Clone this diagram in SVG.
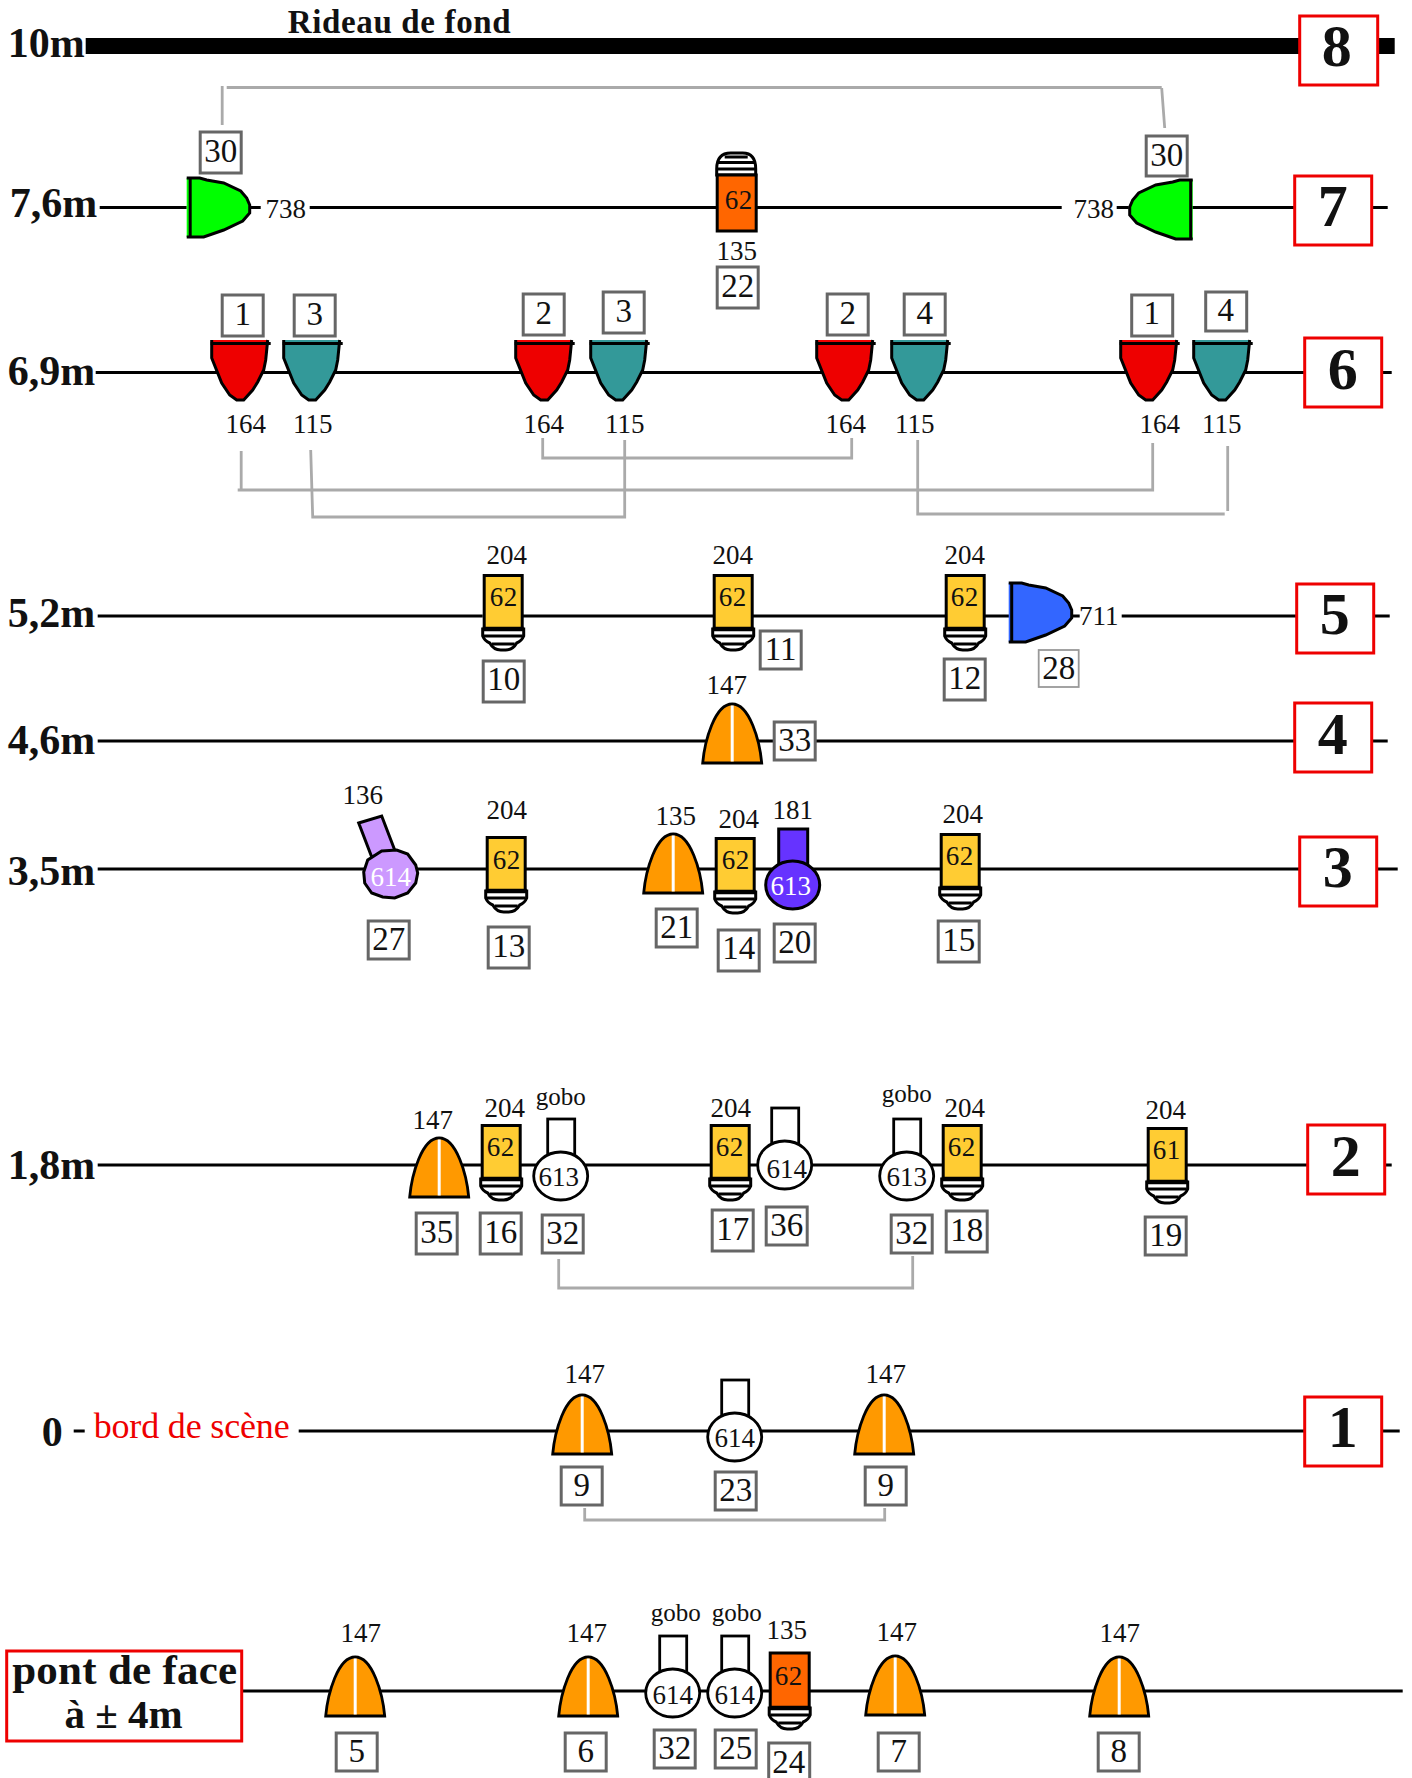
<svg xmlns="http://www.w3.org/2000/svg" width="1412" height="1778" viewBox="0 0 1412 1778">
<style>
text{font-family:"Liberation Serif","Times New Roman",serif;fill:#111;text-anchor:middle}
.lv{font-size:42px;font-weight:bold;text-anchor:start}
.rn{font-size:60px;font-weight:bold}
.n{font-size:33px;transform:translateY(-1px)}
.l{font-size:27px;transform:translateY(.8px)}
.g{font-size:25px;transform:translateY(.8px)}
.i{letter-spacing:.5px;transform:translateY(-1px)}
.box{fill:#fff;stroke:#666;stroke-width:3}
.rb{fill:#fff;stroke:#e00;stroke-width:3}
.bar{fill:none;stroke:#000;stroke-width:2.8}
.link{fill:none;stroke:#aaa;stroke-width:2.8}
.gb{fill:#fff;stroke:#000;stroke-width:2.8}
.s{stroke:#000;stroke-width:3}
</style>
<defs>
<g id="fins"><path d="M0 0V7Q2 12 7 14Q11 21 18 21H23Q30 21 34 14Q39 12 41 7V0Z" fill="#fff" stroke="#000" stroke-width="3"/><path d="M0 0H41" stroke="#000" stroke-width="4.500"/><path d="M1 7H40M9 15H32" stroke="#000" stroke-width="3"/></g>
<g id="lamp"><rect x="1.500" y="1.500" width="38" height="54" fill="#fc3" class="s"/><use href="#fins" y="55"/></g>
<g id="par"><path d="M1 60H60C58 38 48 1 30.500 1C13 1 3 38 1 60Z" fill="#f90" stroke="#000" stroke-width="2.800"/><path d="M30.500 2.500V58.500" stroke="#fff" stroke-width="3"/></g>
<path id="cup" d="M1 0V18L11 43L19 55L26 60H33L42 50L47 42L53 30L55 20L57 0" class="s"/>
<path id="topbar" d="M0 3.500H60" class="s"/>
<path id="d" d="M0 1H13L20 3L37 6L54 14L60 21L63 28V36L56 44L37 53L17 60H0" class="s"/>
<g id="gobo"><rect x="-13" y="-57" width="27" height="40" class="gb"/><ellipse cx="0" cy="0" rx="27" ry="24" class="gb"/></g>
</defs>

<g transform="translate(-0.300 0)">
<g id="connectors">
<path d="M86 46H1395" stroke="#000" stroke-width="16"/>
<g class="bar">
<path d="M100 207.500H187M250 207.500H261M310 207.500H1062M1117 207.500H1129M1192 207.500H1295M1372 207.500H1388"/>
<path d="M96 372.500H1305M1382 372.500H1392"/>
<path d="M98 616H483M520 616H1010M1070 616H1080M1122 616H1297M1374 616H1390"/>
<path d="M98 741H1295M1372 741H1388"/>
<path d="M98 869H1300M1377 869H1398"/>
<path d="M98 1165H1308M1385 1165H1392"/>
<path d="M74 1431H85M299 1431H1305M1382 1431H1400"/>
<path d="M242 1691H1403"/>
</g>
<g class="link">
<path d="M222.500 86V125M227 87.500H1162M1162 88L1165 128"/>
<path d="M241.500 451V490M238 490H1153V443"/>
<path d="M311 450L313 517H625V440"/>
<path d="M543 438V458H852V438"/>
<path d="M918 440V514H1225M1228 446V511"/>
<path d="M559 1259V1288H913V1256"/>
<path d="M585 1508V1520H885V1508"/>
</g>
</g>

<g id="level-labels">
<text class="lv" x="8" y="57">10m</text>
<text class="lv" x="10" y="217">7,6m</text>
<text class="lv" x="8" y="385">6,9m</text>
<text class="lv" x="8" y="627">5,2m</text>
<text class="lv" x="8" y="754">4,6m</text>
<text class="lv" x="8" y="885">3,5m</text>
<text class="lv" x="8" y="1179">1,8m</text>
<text class="lv" x="42" y="1446">0</text>
<text x="94" y="1438" font-size="36" style="fill:#e00;text-anchor:start" textLength="196">bord de scène</text>
<text x="288" y="33" font-size="33" font-weight="bold" style="text-anchor:start" textLength="223">Rideau de fond</text>
</g>

<g id="level-8"><rect class="rb" x="1300" y="16" width="78" height="69"/><text class="rn" x="1337" y="66">8</text></g>
<g id="level-7"><rect class="rb" x="1295" y="176" width="77" height="69"/><text class="rn" x="1333" y="226">7</text></g>
<g id="level-6"><rect class="rb" x="1305" y="338" width="77" height="69"/><text class="rn" x="1343" y="389">6</text></g>
<g id="level-5"><rect class="rb" x="1297" y="584" width="77" height="69"/><text class="rn" x="1335" y="634">5</text></g>
<g id="level-4"><rect class="rb" x="1295" y="703" width="77" height="69"/><text class="rn" x="1333" y="754">4</text></g>
<g id="level-3"><rect class="rb" x="1300" y="837" width="77" height="69"/><text class="rn" x="1338" y="887">3</text></g>
<g id="level-2"><rect class="rb" x="1308" y="1125" width="77" height="69"/><text class="rn" x="1346" y="1176">2</text></g>
<g id="level-1"><rect class="rb" x="1305" y="1397" width="77" height="69"/><text class="rn" x="1343" y="1447">1</text></g>
<g id="level-pont"><rect class="rb" x="7" y="1651" width="235" height="90"/><text x="125" y="1684" font-size="43" font-weight="bold" textLength="225">pont de face</text><text x="124" y="1728" font-size="41" font-weight="bold">à ± 4m</text></g>

<g id="n30a"><use href="#d" x="187" y="177" fill="#0f0"/><path d="M190.500 177V237" class="s"/><text class="l" x="286" y="217">738</text><rect class="box" x="200.500" y="132" width="41" height="41"/><text class="n" x="221" y="163">30</text></g>
<g id="n30b"><g transform="translate(1193 179) scale(-1 1)"><use href="#d" fill="#0f0"/></g><path d="M1191 179V240" class="s"/><text class="l" x="1094" y="217">738</text><rect class="box" x="1146.500" y="136" width="41" height="40"/><text class="n" x="1167" y="167">30</text></g>
<g id="n22"><path d="M717 175V169Q717 153 731 153H743Q756 153 756 169V175Z" fill="#fff" class="s"/><path d="M717 169H756M725 157H748M718 162.500H755" stroke="#000" stroke-width="3"/><rect x="717.500" y="175" width="39" height="56" fill="#f60" class="s"/><text class="l i" x="739" y="210">62</text><text class="l" x="737" y="259">135</text><rect class="box" x="717.500" y="267" width="41" height="41"/><text class="n" x="738" y="298">22</text></g>

<g id="n1a"><use href="#cup" x="211" y="340" fill="#e00"/><use href="#topbar" x="211" y="340"/><text class="l" x="246" y="432">164</text><rect class="box" x="222.500" y="295" width="41" height="41"/><text class="n" x="243" y="326">1</text></g>
<g id="n3a"><use href="#cup" x="283" y="340" fill="#399"/><use href="#topbar" x="283" y="340"/><text class="l" x="313" y="432">115</text><rect class="box" x="294.500" y="295" width="41" height="41"/><text class="n" x="315" y="326">3</text></g>
<g id="n2a"><use href="#cup" x="515" y="340" fill="#e00"/><use href="#topbar" x="515" y="340"/><text class="l" x="544" y="432">164</text><rect class="box" x="523.500" y="294" width="41" height="41"/><text class="n" x="544" y="325">2</text></g>
<g id="n3b"><use href="#cup" x="590" y="340" fill="#399"/><use href="#topbar" x="590" y="340"/><text class="l" x="625" y="432">115</text><rect class="box" x="603.500" y="292" width="41" height="41"/><text class="n" x="624" y="323">3</text></g>
<g id="n2b"><use href="#cup" x="816" y="340" fill="#e00"/><use href="#topbar" x="816" y="340"/><text class="l" x="846" y="432">164</text><rect class="box" x="827.500" y="294" width="41" height="41"/><text class="n" x="848" y="325">2</text></g>
<g id="n4a"><use href="#cup" x="891" y="340" fill="#399"/><use href="#topbar" x="891" y="340"/><text class="l" x="915" y="432">115</text><rect class="box" x="904.500" y="294" width="41" height="41"/><text class="n" x="925" y="325">4</text></g>
<g id="n1b"><use href="#cup" x="1120" y="340" fill="#e00"/><use href="#topbar" x="1120" y="340"/><text class="l" x="1160" y="432">164</text><rect class="box" x="1132" y="295" width="41" height="41"/><text class="n" x="1152" y="325">1</text></g>
<g id="n4b"><use href="#cup" x="1193" y="340" fill="#399"/><use href="#topbar" x="1193" y="340"/><text class="l" x="1222" y="432">115</text><rect class="box" x="1206" y="292" width="41" height="39"/><text class="n" x="1226" y="322">4</text></g>

<g id="n10"><use href="#lamp" x="483" y="574"/><text class="l i" x="504" y="607">62</text><text class="l" x="507" y="563">204</text><rect class="box" x="483.500" y="661" width="41" height="41"/><text class="n" x="504" y="691">10</text></g>
<g id="n11"><use href="#lamp" x="713" y="574"/><text class="l i" x="733" y="607">62</text><text class="l" x="733" y="563">204</text><rect class="box" x="760.500" y="631" width="41" height="38"/><text class="n" x="781" y="661">11</text></g>
<g id="n12"><use href="#lamp" x="945" y="574"/><text class="l i" x="965" y="607">62</text><text class="l" x="965" y="563">204</text><rect class="box" x="944.500" y="659" width="41" height="41"/><text class="n" x="965" y="690">12</text></g>
<g id="n28"><use href="#d" x="1009" y="582" fill="#36f"/><path d="M1012 582V643" class="s"/><text class="l" x="1099" y="624">711</text><rect x="1039" y="650" width="40" height="37" fill="#fff" stroke="#999" stroke-width="1.800"/><text class="n" x="1059" y="680">28</text></g>
<g id="n33"><use href="#par" x="702" y="703"/><text class="l" x="727" y="693">147</text><rect class="box" x="774.500" y="722" width="41" height="38"/><text class="n" x="795" y="752">33</text></g>

<g id="n27"><polygon points="359,823 382,816 395,850 372,857" fill="#c9f" class="s"/><polygon points="382,851 397,850 408,854 416,865 418,873 416,883 408,893 395,898 383,897 372,893 365,883 364,872 368,860" fill="#c9f" class="s"/><text class="l" x="391" y="885" style="fill:#fff">614</text><text class="l" x="363" y="803">136</text><rect class="box" x="368.500" y="921" width="41" height="38"/><text class="n" x="389" y="951">27</text></g>
<g id="n13"><use href="#lamp" x="486" y="836"/><text class="l i" x="507" y="870">62</text><text class="l" x="507" y="818">204</text><rect class="box" x="488.500" y="927" width="41" height="41"/><text class="n" x="509" y="958">13</text></g>
<g id="n21"><use href="#par" x="643" y="833"/><text class="l" x="676" y="824">135</text><rect class="box" x="656.500" y="909" width="41" height="38"/><text class="n" x="677" y="939">21</text></g>
<g id="n14"><use href="#lamp" x="715" y="837"/><text class="l i" x="736" y="870">62</text><text class="l" x="739" y="827">204</text><rect class="box" x="718.500" y="930" width="41" height="41"/><text class="n" x="739" y="960">14</text></g>
<g id="n20"><rect x="779" y="829" width="29" height="36" fill="#63f" class="s"/><ellipse cx="793" cy="885" rx="27" ry="24" fill="#63f" class="s"/><text class="l" x="791" y="894" style="fill:#fff">613</text><text class="l" x="793" y="818">181</text><rect class="box" x="774.500" y="924" width="41" height="38"/><text class="n" x="795" y="954">20</text></g>
<g id="n15"><use href="#lamp" x="940" y="833"/><text class="l i" x="960" y="866">62</text><text class="l" x="963" y="822">204</text><rect class="box" x="938.500" y="921" width="41" height="41"/><text class="n" x="959" y="952">15</text></g>

<g id="n35"><use href="#par" x="409" y="1137"/><text class="l" x="433" y="1128">147</text><rect class="box" x="416.500" y="1213" width="41" height="41"/><text class="n" x="437" y="1244">35</text></g>
<g id="n16"><use href="#lamp" x="481" y="1124"/><text class="l i" x="501" y="1157">62</text><text class="l" x="505" y="1116">204</text><rect class="box" x="480.500" y="1213" width="41" height="41"/><text class="n" x="501" y="1244">16</text></g>
<g id="n32a"><use href="#gobo" x="561" y="1176"/><text class="l" x="559" y="1185">613</text><text class="g" x="561" y="1104">gobo</text><rect class="box" x="542.500" y="1215" width="41" height="38"/><text class="n" x="563" y="1245">32</text></g>
<g id="n17"><use href="#lamp" x="710" y="1124"/><text class="l i" x="730" y="1157">62</text><text class="l" x="731" y="1116">204</text><rect class="box" x="712.500" y="1210" width="41" height="41"/><text class="n" x="733" y="1241">17</text></g>
<g id="n36"><use href="#gobo" x="785" y="1165"/><text class="l" x="787" y="1177">614</text><rect class="box" x="766.500" y="1207" width="41" height="38"/><text class="n" x="787" y="1237">36</text></g>
<g id="n32b"><use href="#gobo" x="907" y="1176"/><text class="l" x="907" y="1185">613</text><text class="g" x="907" y="1101">gobo</text><rect class="box" x="891.500" y="1215" width="41" height="38"/><text class="n" x="912" y="1245">32</text></g>
<g id="n18"><use href="#lamp" x="942" y="1124"/><text class="l i" x="962" y="1157">62</text><text class="l" x="965" y="1116">204</text><rect class="box" x="946.500" y="1211" width="41" height="41"/><text class="n" x="967" y="1242">18</text></g>
<g id="n19"><use href="#lamp" x="1147" y="1127"/><text class="l i" x="1167" y="1160">61</text><text class="l" x="1166" y="1118">204</text><rect class="box" x="1145.500" y="1217" width="41" height="38"/><text class="n" x="1166" y="1247">19</text></g>

<g id="n9a"><use href="#par" x="552" y="1394"/><text class="l" x="585" y="1382">147</text><rect class="box" x="561.500" y="1467" width="41" height="38"/><text class="n" x="582" y="1497">9</text></g>
<g id="n23"><use href="#gobo" x="735" y="1437"/><text class="l" x="735" y="1446">614</text><rect class="box" x="715.500" y="1472" width="41" height="38"/><text class="n" x="736" y="1502">23</text></g>
<g id="n9b"><use href="#par" x="854" y="1394"/><text class="l" x="886" y="1382">147</text><rect class="box" x="865.500" y="1467" width="41" height="38"/><text class="n" x="886" y="1497">9</text></g>

<g id="n5"><use href="#par" x="325" y="1656"/><text class="l" x="361" y="1641">147</text><rect class="box" x="336.500" y="1733" width="41" height="38"/><text class="n" x="357" y="1763">5</text></g>
<g id="n6"><use href="#par" x="558" y="1656"/><text class="l" x="587" y="1641">147</text><rect class="box" x="565.500" y="1733" width="41" height="38"/><text class="n" x="586" y="1763">6</text></g>
<g id="n32c"><use href="#gobo" x="673" y="1693"/><text class="l" x="673" y="1703">614</text><text class="g" x="676" y="1620">gobo</text><rect class="box" x="654.500" y="1730" width="41" height="38"/><text class="n" x="675" y="1760">32</text></g>
<g id="n25"><use href="#gobo" x="735" y="1693"/><text class="l" x="735" y="1703">614</text><text class="g" x="737" y="1620">gobo</text><rect class="box" x="715.500" y="1730" width="41" height="38"/><text class="n" x="736" y="1760">25</text></g>
<g id="n24"><rect x="770.500" y="1653" width="39" height="55" fill="#f60" class="s"/><use href="#fins" x="769.500" y="1708"/><text class="l i" x="789" y="1686">62</text><text class="l" x="787" y="1638">135</text><rect class="box" x="769" y="1743" width="41" height="41"/><text class="n" x="789" y="1774">24</text></g>
<g id="n7"><use href="#par" x="865" y="1655"/><text class="l" x="897" y="1640">147</text><rect class="box" x="878.500" y="1733" width="41" height="38"/><text class="n" x="899" y="1763">7</text></g>
<g id="n8"><use href="#par" x="1089" y="1656"/><text class="l" x="1120" y="1641">147</text><rect class="box" x="1098.500" y="1733" width="41" height="38"/><text class="n" x="1119" y="1763">8</text></g>
</g>
</svg>
